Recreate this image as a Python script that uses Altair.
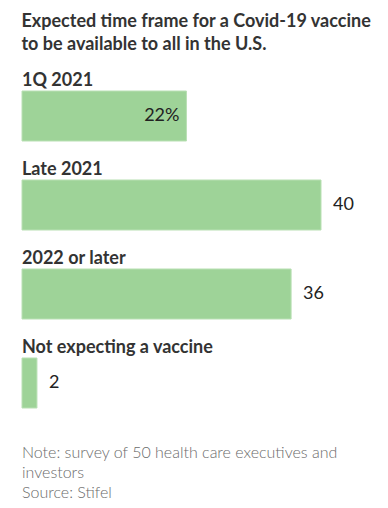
import altair as alt
import pandas as pd

categories = ["1Q 2021", "Late 2021", "2022 or later", "Not expecting a vaccine"]
values = [22, 40, 36, 2]
value_labels = ["22%", "40", "36", "2"]
inside = [True, False, False, False]

title_lines = ["Expected time frame for a Covid-19 vaccine", "to be available to all in the U.S."]
note_lines = ["Note: survey of 50 health care executives and", "investors", "Source: Stifel"]

df = pd.DataFrame({"cat": categories, "value": values, "label": value_labels, "inside": inside})

FONT = "Lato"
BAR = "#9ed398"

y = alt.Y("cat:N", sort=categories, axis=None,
          scale=alt.Scale(paddingInner=0.438, paddingOuter=0))
x = alt.X("value:Q", axis=None, scale=alt.Scale(domain=[0, 40], nice=False))

base = alt.Chart(df)

bars = base.mark_bar(color=BAR, stroke="#b9e0b4", strokeWidth=1).encode(x=x, y=y)

cat_text = base.mark_text(align="left", baseline="alphabetic", dy=-30, font=FONT,
                          fontSize=18, fontWeight="bold", color="#333333").encode(
    x=alt.value(0), y=y, text="cat:N")

out_text = base.transform_filter("!datum.inside").mark_text(
    align="left", baseline="middle", dx=12, font=FONT, fontSize=18, fontWeight="normal",
    color="#222222").encode(x=x, y=y, text="label:N")

in_text = base.transform_filter("datum.inside").mark_text(
    align="right", baseline="middle", dx=-7, font=FONT, fontSize=18, fontWeight="normal",
    color="#222222").encode(x=x, y=y, text="label:N")

note = alt.Chart(pd.DataFrame({"t": ["\n".join(note_lines)]})).mark_text(
    align="left", baseline="alphabetic", font=FONT, fontSize=16, fontWeight=300,
    color="#6b6b6b", lineBreak="\n", lineHeight=20).encode(
    x=alt.value(0), y=alt.value(367), text="t:N")

chart = alt.layer(bars, cat_text, out_text, in_text, note).properties(
    width=299, height=317,
    title=alt.Title(title_lines, anchor="start", font=FONT, fontSize=18, fontWeight="bold",
                    color="#333333", lineHeight=23, offset=18),
    autosize=alt.AutoSizeParams(type="none"),
    padding={"left": 14, "top": 83, "right": 59, "bottom": 92},
).configure_view(stroke=None)

chart.save("out.html", embed_options={"renderer": "svg", "actions": False})
